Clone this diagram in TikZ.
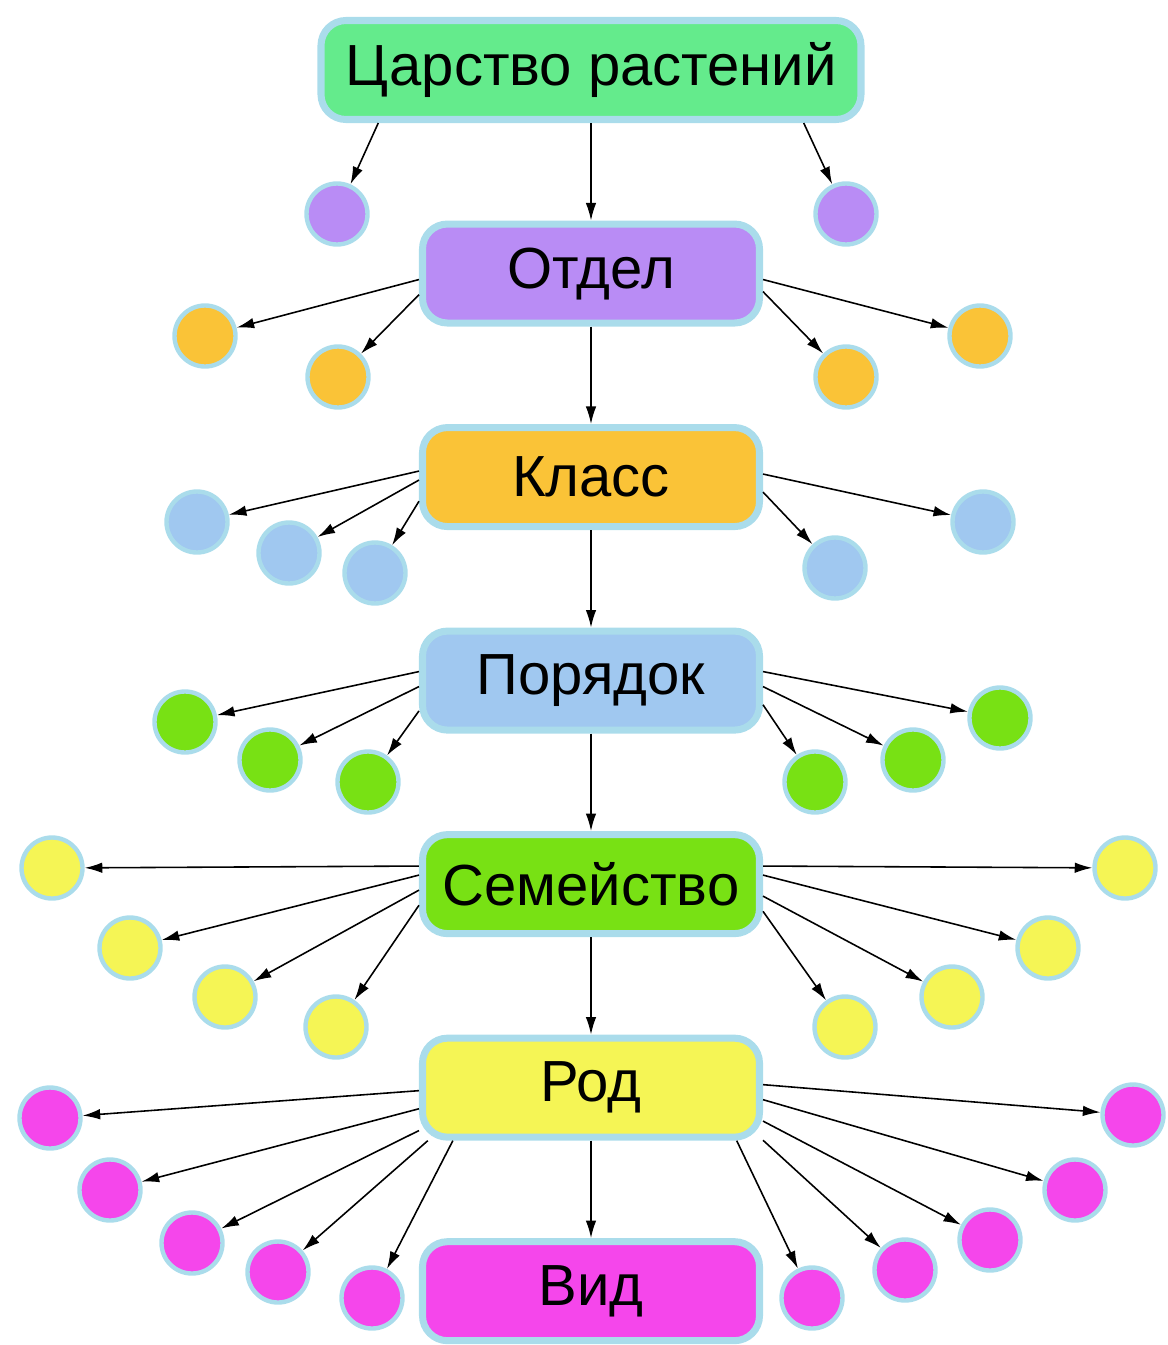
\documentclass[tikz,border=0pt]{standalone}
\usepackage{fontspec}
\setmainfont{Liberation Sans}
\usetikzlibrary{positioning,arrows.meta}

\definecolor{cmint}{RGB}{100,235,140}
\definecolor{cpurple}{RGB}{185,140,245}
\definecolor{corange}{RGB}{250,195,55}
\definecolor{cblue}{RGB}{160,200,240}
\definecolor{cgreen}{RGB}{120,225,20}
\definecolor{cyellow}{RGB}{245,245,85}
\definecolor{cmagenta}{RGB}{245,70,235}
\definecolor{cedge}{RGB}{170,220,235}

\begin{document}
\begin{tikzpicture}[
    node distance=1.95cm,
    box/.style={
        draw=cedge,
        line width=4pt,
        rounded corners=0.5cm,
        align=center,
        minimum width=6.74cm,
        minimum height=1.98cm,
        font=\fontsize{33}{38}\selectfont
    },
    dot/.style={
        circle,
        draw=cedge,
        line width=2.5pt,
        minimum size=1.22cm
    },
    arrow/.style={
        -{Latex[length=10pt,width=6pt]},
        line width=0.9pt
    }
]
\useasboundingbox (0,0) rectangle (23.36,-26.9);

\node[box, fill=cmint, minimum width=10.8cm] (kingdom) at (11.82,-1.4) {Царство растений};
\node[box, fill=cpurple, below=of kingdom] (division) {Отдел};
\node[box, fill=corange, below=of division] (class) {Класс};
\node[box, fill=cblue, below=of class] (order) {Порядок};
\node[box, fill=cgreen, below=of order] (family) {Семейство};
\node[box, fill=cyellow, below=of family] (genus) {Род};
\node[box, fill=cmagenta, below=of genus] (species) {Вид};

\draw[arrow] (kingdom) -- (division);
\draw[arrow] (division) -- (class);
\draw[arrow] (class) -- (order);
\draw[arrow] (order) -- (family);
\draw[arrow] (family) -- (genus);
\draw[arrow] (genus) -- (species);

% divisions
\node[dot, fill=cpurple] (p1) at (6.74,-4.28) {};
\node[dot, fill=cpurple] (p2) at (16.92,-4.28) {};
\draw[arrow] (kingdom.194) -- (p1);
\draw[arrow] (kingdom.346) -- (p2);

% classes
\node[dot, fill=corange] (o1) at (4.10,-6.72) {};
\node[dot, fill=corange] (o2) at (6.76,-7.54) {};
\node[dot, fill=corange] (o3) at (16.92,-7.54) {};
\node[dot, fill=corange] (o4) at (19.60,-6.72) {};
\draw[arrow] (division.182) -- (o1);
\draw[arrow] (division.187) -- (o2);
\draw[arrow] (division.354) -- (o3);
\draw[arrow] (division.358) -- (o4);

% orders
\node[dot, fill=cblue] (b1) at (3.94,-10.44) {};
\node[dot, fill=cblue] (b2) at (5.78,-11.06) {};
\node[dot, fill=cblue] (b3) at (7.50,-11.46) {};
\node[dot, fill=cblue] (b4) at (16.70,-11.36) {};
\node[dot, fill=cblue] (b5) at (19.66,-10.44) {};
\draw[arrow] (class.178) -- (b1);
\draw[arrow] (class.181) -- (b2);
\draw[arrow] (class.188) -- (b3);
\draw[arrow] (class.355) -- (b4);
\draw[arrow] (class.1) -- (b5);

% families
\node[dot, fill=cgreen] (g1) at (3.70,-14.44) {};
\node[dot, fill=cgreen] (g2) at (5.40,-15.20) {};
\node[dot, fill=cgreen] (g3) at (7.36,-15.64) {};
\node[dot, fill=cgreen] (g4) at (16.30,-15.64) {};
\node[dot, fill=cgreen] (g5) at (18.26,-15.20) {};
\node[dot, fill=cgreen] (g6) at (20.00,-14.36) {};
\draw[arrow] (order.177) -- (g1);
\draw[arrow] (order.182) -- (g2);
\draw[arrow] (order.190) -- (g3);
\draw[arrow] (order.352) -- (g4);
\draw[arrow] (order.358) -- (g5);
\draw[arrow] (order.3) -- (g6);

% genera
\node[dot, fill=cyellow] (y1) at (1.04,-17.36) {};
\node[dot, fill=cyellow] (y2) at (2.60,-18.96) {};
\node[dot, fill=cyellow] (y3) at (4.50,-19.94) {};
\node[dot, fill=cyellow] (y4) at (6.72,-20.54) {};
\node[dot, fill=cyellow] (y5) at (16.90,-20.54) {};
\node[dot, fill=cyellow] (y6) at (19.04,-19.94) {};
\node[dot, fill=cyellow] (y7) at (20.96,-18.96) {};
\node[dot, fill=cyellow] (y8) at (22.50,-17.36) {};
\draw[arrow] (family.174) -- (y1);
\draw[arrow] (family.177) -- (y2);
\draw[arrow] (family.182) -- (y3);
\draw[arrow] (family.187) -- (y4);
\draw[arrow] (family.351) -- (y5);
\draw[arrow] (family.356) -- (y6);
\draw[arrow] (family.3) -- (y7);
\draw[arrow] (family.6) -- (y8);

% species
\node[dot, fill=cmagenta] (m1) at (1.00,-22.36) {};
\node[dot, fill=cmagenta] (m2) at (2.20,-23.80) {};
\node[dot, fill=cmagenta] (m3) at (3.84,-24.86) {};
\node[dot, fill=cmagenta] (m4) at (5.56,-25.44) {};
\node[dot, fill=cmagenta] (m5) at (7.44,-25.96) {};
\node[dot, fill=cmagenta] (m6) at (16.24,-25.96) {};
\node[dot, fill=cmagenta] (m7) at (18.10,-25.40) {};
\node[dot, fill=cmagenta] (m8) at (19.80,-24.80) {};
\node[dot, fill=cmagenta] (m9) at (21.50,-23.80) {};
\node[dot, fill=cmagenta] (m10) at (22.66,-22.30) {};
\draw[arrow] (genus.181) -- (m1);
\draw[arrow] (genus.187) -- (m2);
\draw[arrow] (genus.194) -- (m3);
\draw[arrow] (genus.198) -- (m4);
\draw[arrow] (genus.201) -- (m5);
\draw[arrow] (genus.340) -- (m6);
\draw[arrow] (genus.343) -- (m7);
\draw[arrow] (genus.349) -- (m8);
\draw[arrow] (genus.356) -- (m9);
\draw[arrow] (genus.1) -- (m10);

\end{tikzpicture}
\end{document}
